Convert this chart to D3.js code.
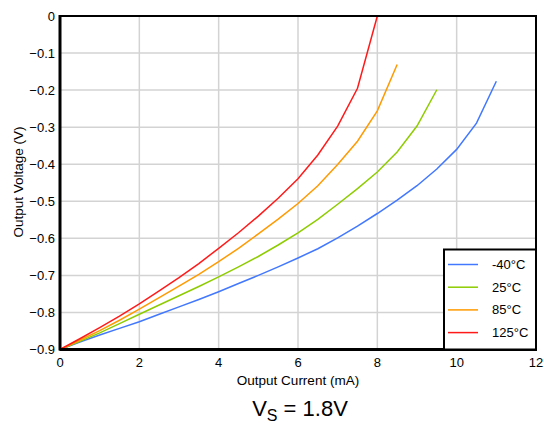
<!DOCTYPE html>
<html>
<head>
<meta charset="utf-8">
<script src="https://cdn.jsdelivr.net/npm/d3@7"></script>
<style>
  body { margin: 0; background: #fff; }
  svg text { font-family: "Liberation Sans", Arial, sans-serif; fill: #000; }
</style>
</head>
<body>
<script>
// output current (mA), 0.5 mA steps
var current = [0, 0.5, 1, 1.5, 2, 2.5, 3, 3.5, 4, 4.5, 5, 5.5, 6, 6.5, 7, 7.5, 8, 8.5, 9, 9.5, 10, 10.5, 11]

// output voltage (V) per temperature
var vMinus40 = [-0.9, -0.88, -0.861, -0.843, -0.825, -0.805, -0.785, -0.765, -0.744, -0.722, -0.7, -0.677, -0.653, -0.628, -0.599, -0.567, -0.533, -0.497, -0.458, -0.413, -0.36, -0.289, -0.176]
var v25 = [-0.9, -0.878, -0.855, -0.83, -0.805, -0.78, -0.755, -0.73, -0.704, -0.677, -0.649, -0.618, -0.585, -0.549, -0.508, -0.466, -0.421, -0.367, -0.297, -0.199]
var v85 = [-0.9, -0.875, -0.849, -0.821, -0.791, -0.76, -0.729, -0.697, -0.663, -0.627, -0.588, -0.548, -0.506, -0.458, -0.401, -0.338, -0.256, -0.131]
var v125 = [-0.9, -0.871, -0.841, -0.81, -0.777, -0.742, -0.706, -0.668, -0.627, -0.585, -0.54, -0.492, -0.439, -0.375, -0.297, -0.195, 0]

var seriesNames = ['-40°C', '25°C', '85°C', '125°C']
var seriesColors = ['#4278ff', '#8ecc00', '#ff9a00', '#ff1a1a']
var xTicks = [0, 2, 4, 6, 8, 10, 12]
var yTicks = [0, -0.1, -0.2, -0.3, -0.4, -0.5, -0.6, -0.7, -0.8, -0.9]

var width = 544, height = 423
var plot = {left: 60, top: 16, right: 536, bottom: 349.5}

var svg = d3.select('body').append('svg')
    .attr('width', width)
    .attr('height', height)

var x = d3.scaleLinear().domain([0, 12]).range([plot.left, plot.right])
var y = d3.scaleLinear().domain([-0.9, 0]).range([plot.bottom, plot.top])

// grid
var grid = svg.append('g')
grid.selectAll('line.gx')
  .data(xTicks.slice(1, -1))
  .enter().append('line')
    .attr('x1', d => x(d)).attr('x2', d => x(d))
    .attr('y1', plot.top).attr('y2', plot.bottom)
    .attr('stroke', '#d3d3d3').attr('stroke-width', 1.5)
grid.selectAll('line.gy')
  .data(yTicks.slice(1, -1))
  .enter().append('line')
    .attr('x1', plot.left).attr('x2', plot.right)
    .attr('y1', d => y(d)).attr('y2', d => y(d))
    .attr('stroke', '#d3d3d3').attr('stroke-width', 1.5)

// curves
var series = [vMinus40, v25, v85, v125].map(function(vals, i) {
  return {name: seriesNames[i], color: seriesColors[i],
          pts: vals.map((v, j) => [current[j], v])}
})

var line = d3.line().x(d => x(d[0])).y(d => y(d[1]))

svg.append('g').selectAll('path')
  .data(series)
  .enter().append('path')
    .attr('d', d => line(d.pts))
    .attr('fill', 'none')
    .attr('stroke', d => d.color)
    .attr('stroke-width', 1.5)

// frame
svg.append('rect')
  .attr('x', plot.left).attr('y', plot.top)
  .attr('width', plot.right - plot.left).attr('height', plot.bottom - plot.top)
  .attr('fill', 'none').attr('stroke', '#000').attr('stroke-width', 2)
svg.append('line')
  .attr('x1', plot.left).attr('x2', plot.left)
  .attr('y1', plot.top - 1).attr('y2', plot.bottom + 1)
  .attr('stroke', '#000').attr('stroke-width', 3)
svg.append('line')
  .attr('x1', plot.left).attr('x2', plot.right + 1)
  .attr('y1', plot.bottom).attr('y2', plot.bottom)
  .attr('stroke', '#000').attr('stroke-width', 3)

// tick labels
svg.append('g').selectAll('text')
  .data(xTicks)
  .enter().append('text')
    .attr('x', d => x(d))
    .attr('y', plot.bottom + 17)
    .attr('text-anchor', 'middle')
    .attr('font-size', 13)
    .text(d => d)
svg.append('g').selectAll('text')
  .data(yTicks)
  .enter().append('text')
    .attr('x', plot.left - 5)
    .attr('y', d => y(d) + 4.5)
    .attr('text-anchor', 'end')
    .attr('font-size', 13)
    .text(d => d3.format('')(+d.toFixed(1)))

// axis titles
svg.append('text')
  .attr('x', 298)
  .attr('y', 385)
  .attr('text-anchor', 'middle')
  .attr('font-size', 13.5)
  .text('Output Current (mA)')
svg.append('text')
  .attr('transform', 'translate(23,182) rotate(-90)')
  .attr('text-anchor', 'middle')
  .attr('font-size', 13.5)
  .text('Output Voltage (V)')

// caption
var cap = svg.append('text')
  .attr('x', 300)
  .attr('y', 416)
  .attr('text-anchor', 'middle')
  .attr('font-size', 22)
cap.append('tspan').text('V')
cap.append('tspan').attr('font-size', 16).attr('dy', 5).text('S')
cap.append('tspan').attr('dy', -5).text(' = 1.8V')

// legend
var lg = svg.append('g')
lg.append('rect')
  .attr('x', 444).attr('y', 249.5)
  .attr('width', 92).attr('height', 100)
  .attr('fill', '#fff').attr('stroke', '#000').attr('stroke-width', 2)
var items = lg.selectAll('g.item')
  .data(series)
  .enter().append('g')
    .attr('transform', (d, i) => 'translate(0,' + (264.5 + i * 22.7) + ')')
items.append('line')
  .attr('x1', 448).attr('x2', 478)
  .attr('stroke', d => d.color).attr('stroke-width', 1.5)
items.append('text')
  .attr('x', 492).attr('y', 4.5)
  .attr('font-size', 13)
  .text(d => d.name)
</script>
</body>
</html>
